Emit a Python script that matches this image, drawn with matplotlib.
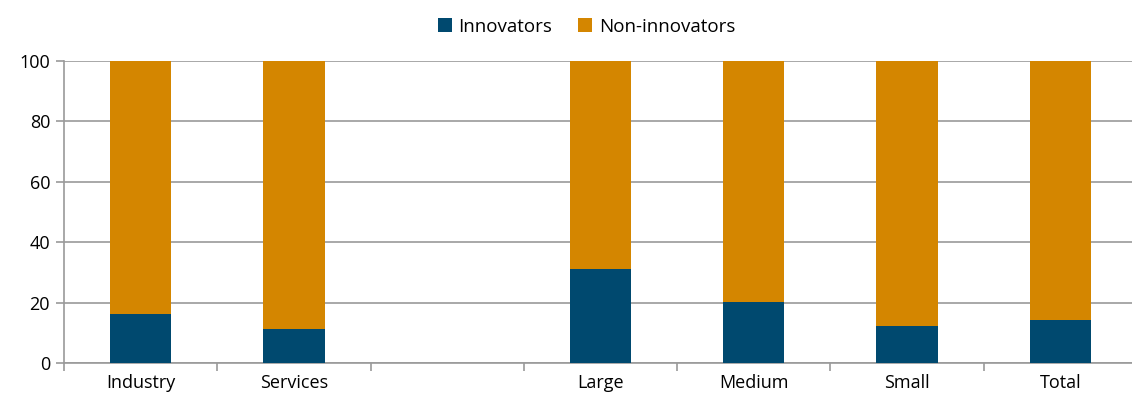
import numpy as np
import matplotlib.pyplot as plt

categories = ['Industry', 'Services', '', 'Large', 'Medium', 'Small', 'Total']
innovators = [16.3, 11.2, np.nan, 31.2, 20.3, 12.3, 14.3]
non_innovators = [100 - v for v in innovators]

blue = '#00496F'
orange = '#D48600'
grey = '#9A9A9A'

plt.rcParams['font.family'] = ['Open Sans', 'DejaVu Sans']

fig = plt.figure(figsize=(11.32, 4.01), dpi=100)
ax = fig.add_axes([64 / 1132, (401 - 363.3) / 401, (1137 - 64) / 1132, (363.3 - 60.7) / 401])

x = np.arange(len(categories))
ax.bar(x, innovators, width=0.4, color=blue, label='Innovators', zorder=3)
ax.bar(x, non_innovators, width=0.4, bottom=innovators, color=orange,
       label='Non-innovators', zorder=3)

ax.set_xlim(-0.5, len(categories) - 0.5)
ax.set_ylim(0, 100)
ax.set_yticks(range(0, 101, 20))
ax.yaxis.grid(True, color=grey, linewidth=1.2, zorder=0)
ax.tick_params(axis='y', length=6, color=grey, width=1.2, labelsize=13, pad=4)

ax.set_xticks(x)
ax.set_xticklabels(categories, fontsize=13)
ax.tick_params(axis='x', which='major', length=0, pad=8)
ax.set_xticks(np.arange(-0.5, len(categories)), minor=True)
ax.tick_params(axis='x', which='minor', length=6, color=grey, width=1.2)

for s in ['top', 'right']:
    ax.spines[s].set_visible(False)
for s in ['left', 'bottom']:
    ax.spines[s].set_color(grey)
    ax.spines[s].set_linewidth(1.2)

fig.legend(loc='upper center', bbox_to_anchor=(0.518, 0.998), ncol=2, frameon=False,
           fontsize=13.5, handlelength=0.75, handleheight=0.75, handletextpad=0.35,
           columnspacing=1.4)

fig.savefig('out.png', dpi=100)
